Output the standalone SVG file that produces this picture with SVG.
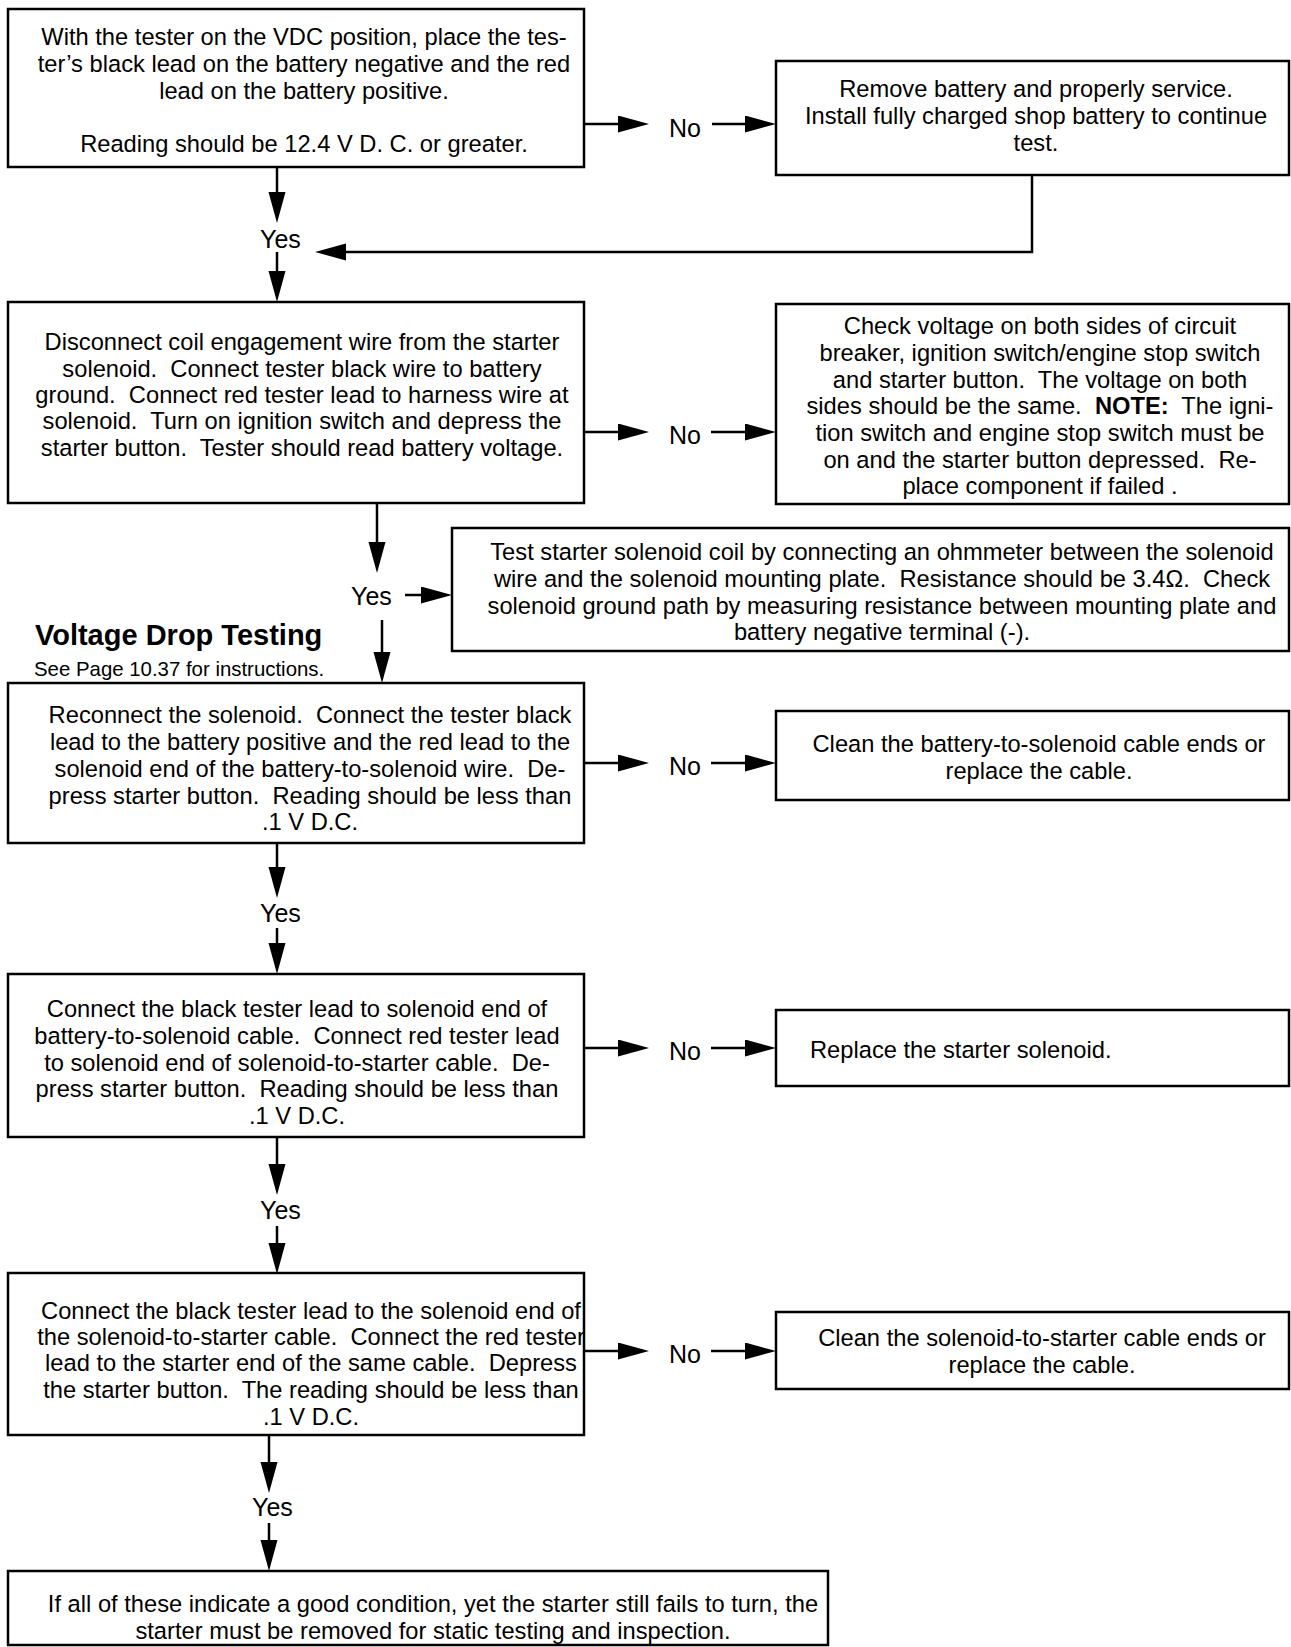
<svg xmlns="http://www.w3.org/2000/svg" width="1291" height="1647" viewBox="0 0 1291 1647" xml:space="preserve">
<defs>
<marker id="ah" markerUnits="userSpaceOnUse" markerWidth="32" markerHeight="18" refX="21" refY="8.5" orient="auto" viewBox="0 0 32 18">
<path d="M0,0 L31,8.5 L0,17 z" fill="#000"/>
</marker>
<style>
.box{fill:#fff;stroke:#000;stroke-width:2.5}
.t{font-family:"Liberation Sans",Arial,Helvetica,sans-serif;font-size:23.7px;fill:#000;text-anchor:middle;white-space:pre}
.lbl{font-family:"Liberation Sans",Arial,Helvetica,sans-serif;font-size:25px;fill:#000;white-space:pre}
.c{fill:none;stroke:#000;stroke-width:2.5}
.a{fill:none;stroke:#000;stroke-width:2.5;marker-end:url(#ah)}
</style>
</defs>
<rect width="1291" height="1647" fill="#fff"/>

<g id="connectors">
<line class="a" x1="584" y1="124" x2="639" y2="124"/>
<line class="a" x1="712" y1="124" x2="766" y2="124"/>
<polyline class="c" points="1032,175 1032,252 330,252"/>
<line class="a" x1="340" y1="252" x2="325" y2="252"/>
<line class="a" x1="277" y1="167" x2="277" y2="213"/>
<line class="a" x1="277" y1="252" x2="277" y2="292"/>

<line class="a" x1="584" y1="432" x2="639" y2="432"/>
<line class="a" x1="711" y1="432" x2="766" y2="432"/>
<line class="a" x1="377" y1="503" x2="377" y2="563"/>
<line class="a" x1="405" y1="595" x2="442" y2="595"/>
<line class="a" x1="382" y1="620" x2="382" y2="673"/>

<line class="a" x1="584" y1="763" x2="639" y2="763"/>
<line class="a" x1="711" y1="763" x2="766" y2="763"/>
<line class="a" x1="277" y1="843" x2="277" y2="888"/>
<line class="a" x1="277" y1="928" x2="277" y2="964"/>

<line class="a" x1="584" y1="1048" x2="639" y2="1048"/>
<line class="a" x1="711" y1="1048" x2="766" y2="1048"/>
<line class="a" x1="277" y1="1137" x2="277" y2="1185"/>
<line class="a" x1="277" y1="1226" x2="277" y2="1264"/>

<line class="a" x1="584" y1="1351" x2="639" y2="1351"/>
<line class="a" x1="711" y1="1351" x2="766" y2="1351"/>
<line class="a" x1="269" y1="1435" x2="269" y2="1483"/>
<line class="a" x1="269" y1="1523" x2="269" y2="1561"/>

<text class="lbl" x="669" y="137">No</text>
<text class="lbl" x="260" y="248">Yes</text>
<text class="lbl" x="669" y="444">No</text>
<text class="lbl" x="351" y="605">Yes</text>
<text class="lbl" x="669" y="775">No</text>
<text class="lbl" x="260" y="922">Yes</text>
<text class="lbl" x="669" y="1060">No</text>
<text class="lbl" x="260" y="1219">Yes</text>
<text class="lbl" x="669" y="1363">No</text>
<text class="lbl" x="252" y="1516">Yes</text>
</g>

<g id="n1">
<rect class="box" x="8" y="9" width="576" height="158"/>
<text class="t" x="304" y="45">With the tester on the VDC position, place the tes-</text>
<text class="t" x="304" y="72">ter’s black lead on the battery negative and the red</text>
<text class="t" x="304" y="99">lead on the battery positive.</text>
<text class="t" x="304" y="152">Reading should be 12.4 V D. C. or greater.</text>
</g>

<g id="n2">
<rect class="box" x="776" y="61" width="513" height="114"/>
<text class="t" x="1036" y="97">Remove battery and properly service.</text>
<text class="t" x="1036" y="124">Install fully charged shop battery to continue</text>
<text class="t" x="1036" y="151">test.</text>
</g>

<g id="n3">
<rect class="box" x="8" y="302" width="576" height="201"/>
<text class="t" x="302" y="350">Disconnect coil engagement wire from the starter</text>
<text class="t" x="302" y="377">solenoid.  Connect tester black wire to battery</text>
<text class="t" x="302" y="403">ground.  Connect red tester lead to harness wire at</text>
<text class="t" x="302" y="429">solenoid.  Turn on ignition switch and depress the</text>
<text class="t" x="302" y="456">starter button.  Tester should read battery voltage.</text>
</g>

<g id="n4">
<rect class="box" x="776" y="304" width="513" height="200"/>
<text class="t" x="1040" y="334">Check voltage on both sides of circuit</text>
<text class="t" x="1040" y="361">breaker, ignition switch/engine stop switch</text>
<text class="t" x="1040" y="388">and starter button.  The voltage on both</text>
<text class="t" x="1040" y="414">sides should be the same.  <tspan font-weight="bold">NOTE:</tspan>  The igni-</text>
<text class="t" x="1040" y="441">tion switch and engine stop switch must be</text>
<text class="t" x="1040" y="468">on and the starter button depressed.  Re-</text>
<text class="t" x="1040" y="494">place component if failed .</text>
</g>

<g id="n5">
<rect class="box" x="452" y="528" width="837" height="123"/>
<text class="t" x="882" y="560">Test starter solenoid coil by connecting an ohmmeter between the solenoid</text>
<text class="t" x="882" y="587">wire and the solenoid mounting plate.  Resistance should be 3.4Ω.  Check</text>
<text class="t" x="882" y="614">solenoid ground path by measuring resistance between mounting plate and</text>
<text class="t" x="882" y="640">battery negative terminal (-).</text>
</g>

<g id="heading">
<text x="35" y="645" style="font-family:'Liberation Sans',Arial,sans-serif;font-size:29px;font-weight:bold">Voltage Drop Testing</text>
<text x="34" y="676" style="font-family:'Liberation Sans',Arial,sans-serif;font-size:20.4px">See Page 10.37 for instructions.</text>
</g>

<g id="n6">
<rect class="box" x="8" y="683" width="576" height="160"/>
<text class="t" x="310" y="723">Reconnect the solenoid.  Connect the tester black</text>
<text class="t" x="310" y="750">lead to the battery positive and the red lead to the</text>
<text class="t" x="310" y="777">solenoid end of the battery-to-solenoid wire.  De-</text>
<text class="t" x="310" y="804">press starter button.  Reading should be less than</text>
<text class="t" x="310" y="830">.1 V D.C.</text>
</g>

<g id="n7">
<rect class="box" x="776" y="711" width="513" height="89"/>
<text class="t" x="1039" y="752">Clean the battery-to-solenoid cable ends or</text>
<text class="t" x="1039" y="779">replace the cable.</text>
</g>

<g id="n8">
<rect class="box" x="8" y="974" width="576" height="163"/>
<text class="t" x="297" y="1017">Connect the black tester lead to solenoid end of</text>
<text class="t" x="297" y="1044">battery-to-solenoid cable.  Connect red tester lead</text>
<text class="t" x="297" y="1071">to solenoid end of solenoid-to-starter cable.  De-</text>
<text class="t" x="297" y="1097">press starter button.  Reading should be less than</text>
<text class="t" x="297" y="1124">.1 V D.C.</text>
</g>

<g id="n9">
<rect class="box" x="776" y="1010" width="513" height="76"/>
<text class="t" x="810" y="1058" style="text-anchor:start">Replace the starter solenoid.</text>
</g>

<g id="n10">
<rect class="box" x="8" y="1273" width="576" height="162"/>
<text class="t" x="311" y="1319">Connect the black tester lead to the solenoid end of</text>
<text class="t" x="311" y="1345">the solenoid-to-starter cable.  Connect the red tester</text>
<text class="t" x="311" y="1371">lead to the starter end of the same cable.  Depress</text>
<text class="t" x="311" y="1398">the starter button.  The reading should be less than</text>
<text class="t" x="311" y="1425">.1 V D.C.</text>
</g>

<g id="n11">
<rect class="box" x="776" y="1312" width="513" height="77"/>
<text class="t" x="1042" y="1346">Clean the solenoid-to-starter cable ends or</text>
<text class="t" x="1042" y="1373">replace the cable.</text>
</g>

<g id="n12">
<rect class="box" x="8" y="1571" width="820" height="74"/>
<text class="t" x="433" y="1612">If all of these indicate a good condition, yet the starter still fails to turn, the</text>
<text class="t" x="433" y="1639">starter must be removed for static testing and inspection.</text>
</g>
</svg>
